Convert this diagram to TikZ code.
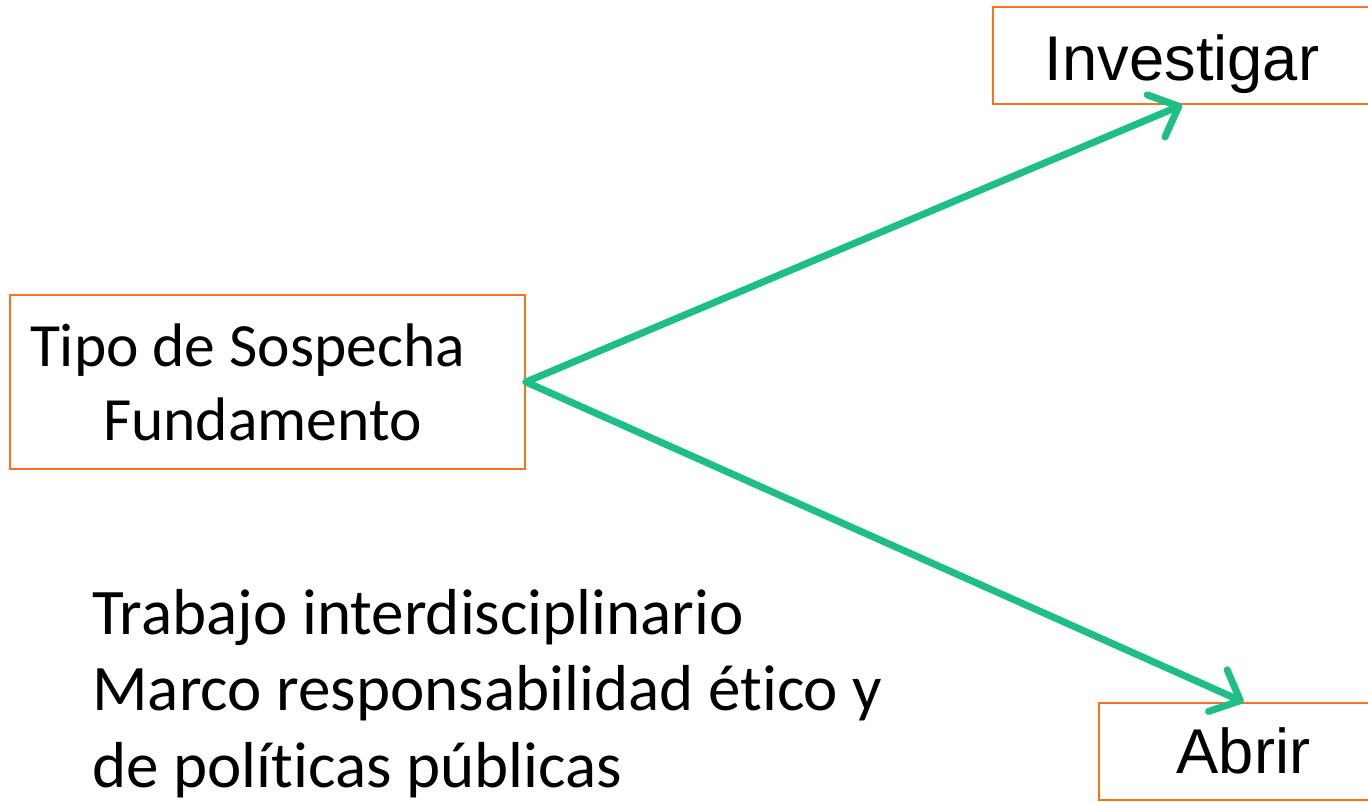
\documentclass[tikz,border=0pt]{standalone}
\usepackage{fontspec}
\setmainfont[Ligatures=NoCommon]{Carlito}
\newfontfamily\arialfont{Liberation Sans}
\usetikzlibrary{arrows.meta}
\definecolor{naranja}{RGB}{248,113,28}
\definecolor{verde}{RGB}{31,190,134}

\begin{document}
\begin{tikzpicture}[x=0.02cm,y=-0.02cm,
    caja/.style={draw=naranja, line width=1.1pt, inner sep=0pt},
    flecha/.style={verde, line width=4pt, line cap=round,
        -{Straight Barb[length=14pt, width=26pt, round]}}]
\useasboundingbox (0,0) rectangle (1368,801);
% cajas
\node[caja, minimum width=10.3cm, minimum height=3.48cm, text width=9.5cm, align=flush left,
    font=\fontsize{35}{42}\selectfont] (tipo) at (267.5,382)
    {Tipo de Sospecha\\\hspace*{1.46cm}Fundamento};
\node[caja, minimum width=7.58cm, minimum height=1.94cm, text height=28pt, text depth=0pt,
    font=\arialfont\fontsize{36}{40}\selectfont] (inv) at (1182,55.5) {Investigar};
\node[caja, minimum width=5.78cm, minimum height=1.94cm, text height=24.5pt, text depth=0pt,
    font=\arialfont\fontsize{36}{40}\selectfont] (abrir) at (1243.5,751.5) {Abrir};
% texto de abajo
\node[anchor=north west, inner sep=0pt, align=flush left,
    font=\fontsize{37}{43.5}\selectfont] (marco) at (92,589)
    {Trabajo interdisciplinario\\Marco responsabilidad ético y\\de políticas públicas};
% flechas
\draw[flecha] (tipo.east) -- (inv.south);
\draw[flecha] (tipo.east) -- (abrir.north);
\end{tikzpicture}
\end{document}
